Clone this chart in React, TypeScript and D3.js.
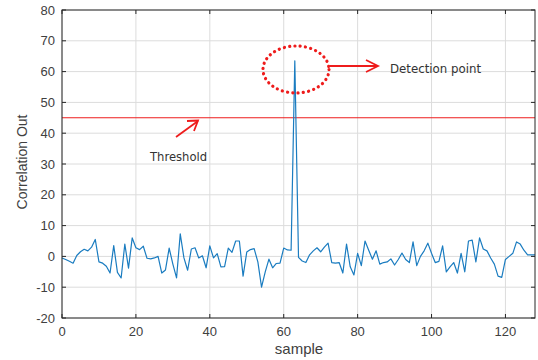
import React from "react";
import * as d3 from "d3";

const correlation: number[] = [
  -0.5, -1.0, -1.6, -2.2, 0.3, 1.5, 2.3, 1.8, 3.0, 5.5,
  -1.8, -2.2, -3.2, -5.4, 3.5, -5.2, -7.0, 4.0, -3.8, 6.0,
  2.8, 2.2, 3.3, -0.6, -0.8, -0.5, 0.0, -5.4, -4.4, 2.7,
  -2.5, -7.0, 7.3, -0.5, -4.5, 2.4, 2.8, -0.5, 0.2, -3.7,
  3.4, -0.5, 0.9, -3.4, -3.3, 2.7, 1.3, 5.0, 5.0, -6.4,
  1.4, 2.2, 2.5, -1.8, -10.0, -5.0, -0.9, -3.7, -2.3, -2.2,
  2.7, 2.1, 2.0, 63.5, -0.3, -1.5, -2.0, 0.5, 1.8, 2.8,
  1.5, 3.0, 4.3, -2.0, -2.2, -2.0, -5.4, 4.0, -3.4, -6.0,
  1.0, -3.0, 5.0, 2.0, -0.9, 1.8, -2.5, -2.0, -1.8, -0.8,
  -2.8, -1.0, 1.1, -1.0, -2.0, 4.7, -3.0, 0.0, 1.8, 4.3,
  1.0, -2.0, -1.6, 3.4, -5.0, -3.4, -2.0, -5.4, 1.0, -5.0,
  5.0, 5.3, -1.8, 6.0, 2.4, 1.8, -0.5, -2.5, -6.4, -6.8,
  -1.0, 0.0, 1.0, 4.7, 4.0, 2.0, 0.5, 0.5, 0.5,
];
const threshold = 45;
const xTicks = [0, 20, 40, 60, 80, 100, 120];
const yTicks = [-20, -10, 0, 10, 20, 30, 40, 50, 60, 70, 80];
const xDomain: [number, number] = [0, 128];
const yDomain: [number, number] = [-20, 80];

export default function App() {
  const W = 538;
  const H = 360;
  const x = d3.scaleLinear().domain(xDomain).range([62, 535]);
  const y = d3.scaleLinear().domain(yDomain).range([318, 10]);
  const line = d3
    .line<number>()
    .x((_, i) => x(i))
    .y((d) => y(d));
  const tickCol = "#404040";
  const axisCol = "#262626";
  const red = "#ee1c1c";
  const fontTick = "'Liberation Sans', Arial, sans-serif";
  const fontAnn = "'DejaVu Sans', Verdana, sans-serif";
  return (
    <svg
      width={W}
      height={H}
      style={{ position: "absolute", left: 0, top: 0, background: "#fff" }}
    >
      <rect x={x(0)} y={y(80)} width={x(128) - x(0)} height={y(-20) - y(80)} fill="#fff" />
      {/* grid */}
      {xTicks.map((t) => (
        <line key={"gx" + t} x1={x(t)} x2={x(t)} y1={y(80)} y2={y(-20)} stroke="#dcdcdc" strokeWidth={1} />
      ))}
      {yTicks.map((t) => (
        <line key={"gy" + t} x1={x(0)} x2={x(128)} y1={y(t)} y2={y(t)} stroke="#dcdcdc" strokeWidth={1} />
      ))}
      {/* threshold */}
      <line x1={x(0)} x2={x(128)} y1={y(threshold)} y2={y(threshold)} stroke={red} strokeWidth={1.1} />
      {/* signal */}
      <path d={line(correlation) || ""} fill="none" stroke="#1a7cc0" strokeWidth={1.2} strokeLinejoin="round" />
      {/* box */}
      <rect
        x={x(0)}
        y={y(80)}
        width={x(128) - x(0)}
        height={y(-20) - y(80)}
        fill="none"
        stroke={axisCol}
        strokeWidth={1}
      />
      {/* ticks */}
      {xTicks.map((t) => (
        <g key={"tx" + t}>
          <line x1={x(t)} x2={x(t)} y1={y(-20)} y2={y(-20) - 4} stroke={axisCol} />
          <line x1={x(t)} x2={x(t)} y1={y(80)} y2={y(80) + 4} stroke={axisCol} />
          <text x={x(t)} y={336} textAnchor="middle" fontSize={13} fill={tickCol} fontFamily={fontTick}>
            {t}
          </text>
        </g>
      ))}
      {yTicks.map((t) => (
        <g key={"ty" + t}>
          <line x1={x(0)} x2={x(0) + 4} y1={y(t)} y2={y(t)} stroke={axisCol} />
          <line x1={x(128)} x2={x(128) - 4} y1={y(t)} y2={y(t)} stroke={axisCol} />
          <text x={55} y={y(t) + 4.5} textAnchor="end" fontSize={13} fill={tickCol} fontFamily={fontTick}>
            {t}
          </text>
        </g>
      ))}
      <text x={299} y={354} textAnchor="middle" fontSize={15} fill={tickCol} fontFamily={fontTick}>
        sample
      </text>
      <text
        transform={`translate(27,${162}) rotate(-90)`}
        textAnchor="middle"
        fontSize={14}
        fill={tickCol}
        fontFamily={fontTick}
      >
        Correlation Out
      </text>
      {/* detection annotation */}
      <ellipse
        cx={296}
        cy={69.5}
        rx={33}
        ry={23.5}
        fill="none"
        stroke={red}
        strokeWidth={3.2}
        strokeLinecap="round"
        strokeDasharray="0.1 5.2"
      />
      <line x1={330} y1={66} x2={377} y2={66} stroke={red} strokeWidth={1.8} />
      <polyline points="366,60 378,66 366,72" fill="none" stroke={red} strokeWidth={1.8} />
      <text x={390} y={73} fontSize={11.8} fill="#333" fontFamily={fontAnn}>
        Detection point
      </text>
      {/* threshold annotation */}
      <line x1={176} y1={137} x2={198} y2={121} stroke={red} strokeWidth={1.8} />
      <polyline points="187,121 198,120.5 194,131" fill="none" stroke={red} strokeWidth={1.8} />
      <text x={150} y={161} fontSize={11.6} fill="#333" fontFamily={fontAnn}>
        Threshold
      </text>
    </svg>
  );
}
